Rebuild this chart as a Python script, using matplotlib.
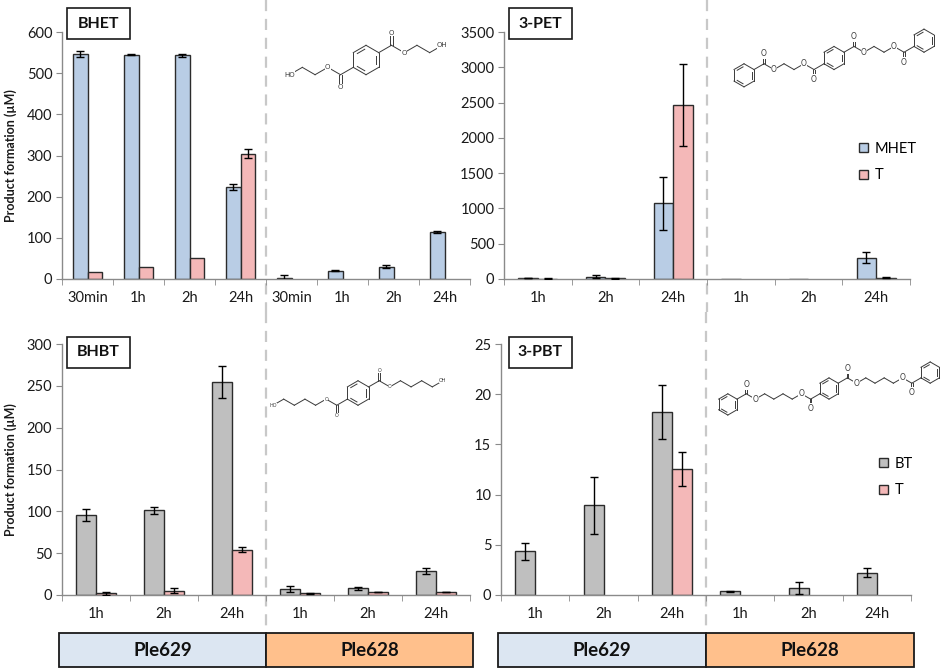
import numpy as np
import matplotlib
matplotlib.use("Agg")
import matplotlib.pyplot as plt
from matplotlib.patches import Rectangle, Patch
from matplotlib.transforms import blended_transform_factory

plt.rcParams['font.family'] = ['Lato', 'DejaVu Sans']

# ---------------- data ----------------
bhet_cats = ['30min', '1h', '2h', '24h', '30min', '1h', '2h', '24h']
bhet_mhet = [547, 545, 543, 223, 3, 20, 30, 114]
bhet_mhet_err = [8, 1.5, 4, 8, 7, 1, 4, 2]
bhet_t = [17, 28, 50, 304, 0, 0, 0, 0]
bhet_t_err = [0, 0, 0, 11, 0, 0, 0, 0]

time_cats = ['1h', '2h', '24h', '1h', '2h', '24h']
pet_mhet = [15, 35, 1070, 4, 4, 300]
pet_mhet_err = [6, 20, 375, 0, 0, 80]
pet_t = [6, 10, 2460, 0, 0, 20]
pet_t_err = [2, 3, 580, 0, 0, 5]

bhbt_bt = [96, 101, 255, 7, 8, 29]
bhbt_bt_err = [7, 4, 19, 4, 2, 3.5]
bhbt_t = [2, 5, 54, 2, 3.5, 3.5]
bhbt_t_err = [2, 3, 3, 0.5, 0.5, 0.5]

pbt_bt = [4.35, 8.95, 18.2, 0.35, 0.65, 2.2]
pbt_bt_err = [0.87, 2.83, 2.67, 0.05, 0.6, 0.45]
pbt_t = [0, 0, 12.55, 0, 0, 0]
pbt_t_err = [0, 0, 1.65, 0, 0, 0]

enzymes = ['Ple629', 'Ple628']

C_MHET = '#B9CDE5'
C_T = '#F4B8B8'
C_BT = '#BFBFBF'
EDGE = '#2b2b2b'
AXC = '#8a8a8a'

W, H = 948, 670
fig = plt.figure(figsize=(W / 100, H / 100), dpi=100)


def px_axes(l, t, r, b):
    return fig.add_axes([l / W, 1 - b / H, (r - l) / W, (b - t) / H])


def bar_panel(ax, cats, s1, e1, s2, e2, c1, ymax, ystep):
    n = len(cats)
    x = np.arange(n)
    w = 0.29
    s1 = np.array(s1, float); s2 = np.array(s2, float)
    e1 = np.array(e1, float); e2 = np.array(e2, float)
    for xs, s, e, col in ((x - w / 2, s1, e1, c1), (x + w / 2, s2, e2, C_T)):
        nz = s > 0
        ax.bar(xs[nz], s[nz], w, color=col, edgecolor=EDGE, lw=1.0, zorder=2)
        m = e > 0
        ax.errorbar(xs[m], s[m], yerr=e[m], fmt='none', ecolor='black',
                    elinewidth=1.0, capsize=3, capthick=1.0, zorder=3)
    ax.set_xlim(-0.5, n - 0.5)
    ax.set_ylim(0, ymax)
    ax.set_yticks(np.arange(0, ymax + ystep / 2, ystep))
    ax.set_xticks(x)
    ax.set_xticklabels(cats)
    ax.set_xticks(np.arange(-0.5, n, 1.0), minor=True)
    for sp in ('top', 'right'):
        ax.spines[sp].set_visible(False)
    for sp in ('left', 'bottom'):
        ax.spines[sp].set_color(AXC)
        ax.spines[sp].set_linewidth(1.0)
        ax.spines[sp].set_zorder(2.5)
    ax.tick_params(axis='y', direction='out', length=4, color=AXC, labelsize=10.5,
                   labelcolor='#1a1a1a', pad=3)
    ax.tick_params(axis='x', which='major', length=0, labelsize=10.5,
                   labelcolor='#1a1a1a', pad=9)
    ax.tick_params(axis='x', which='minor', direction='out', length=4, color=AXC)
    ax.set_facecolor('none')


# ---------------- panels ----------------
ax1 = px_axes(62, 32, 470, 279)
bar_panel(ax1, bhet_cats, bhet_mhet, bhet_mhet_err, bhet_t, bhet_t_err, C_MHET, 600, 100)
ax2 = px_axes(504, 32, 910, 279)
bar_panel(ax2, time_cats, pet_mhet, pet_mhet_err, pet_t, pet_t_err, C_MHET, 3500, 500)
ax3 = px_axes(62, 344, 470, 595)
bar_panel(ax3, time_cats, bhbt_bt, bhbt_bt_err, bhbt_t, bhbt_t_err, C_BT, 300, 50)
ax4 = px_axes(501, 344, 911, 595)
bar_panel(ax4, time_cats, pbt_bt, pbt_bt_err, pbt_t, pbt_t_err, C_BT, 25, 5)

# y labels
for yc in ((32 + 279) / 2, (344 + 595) / 2):
    fig.text(11 / W, 1 - yc / H, 'Product formation (µM)', rotation=90,
             ha='center', va='center', fontsize=9, fontweight='bold', color='#1a1a1a')

# dashed dividers
for ax, ytop, ybot in ((ax1, 0, 312), (ax2, 0, 312), (ax3, 312, 633), (ax4, 312, 633)):
    n = len(ax.get_xticks())
    tr = blended_transform_factory(ax.transData, fig.transFigure)
    ax.plot([n / 2 - 0.5] * 2, [1 - ytop / H, 1 - ybot / H], transform=tr,
            color='#c8c8c8', lw=1.6, ls=(0, (5, 3.5)), clip_on=False, zorder=1)

# title boxes
for txt, l, t in (('BHET', 67, 8), ('3-PET', 509, 8), ('BHBT', 67, 337), ('3-PBT', 509, 337)):
    fig.add_artist(Rectangle((l / W, 1 - (t + 31) / H), 63 / W, 31 / H,
                             transform=fig.transFigure, fc='white', ec='#1a1a1a', lw=1.2))
    fig.text((l + 31.5) / W, 1 - (t + 15.5) / H, txt, ha='center', va='center',
             fontsize=11.5, fontweight='bold', color='#111111')

# enzyme boxes under bottom panels
for ax in (ax3, ax4):
    tr = blended_transform_factory(ax.transAxes, fig.transFigure)
    for k, (name, col) in enumerate(zip(enzymes, ['#DCE6F2', '#FFC08C'])):
        x0 = -0.007 if k == 0 else 0.5
        x1 = 0.5 if k == 0 else 1.007
        ax.add_patch(Rectangle((x0, 1 - 667 / H), x1 - x0, 34 / H, transform=tr,
                               fc=col, ec='#1a1a1a', lw=1.3, clip_on=False, zorder=4))
        ax.text((x0 + x1) / 2, 1 - 650 / H, name, transform=tr, ha='center', va='center',
                fontsize=13.5, fontweight='bold', color='#111111', zorder=5)

# legends
ax2.legend(handles=[Patch(fc=C_MHET, ec=EDGE, lw=1.0, label='MHET'),
                    Patch(fc=C_T, ec=EDGE, lw=1.0, label='T')],
           loc='upper left', bbox_to_anchor=(0.875, 0.555), frameon=False,
           fontsize=10.5, handlelength=0.6, handleheight=0.6, handletextpad=0.45,
           labelspacing=0.85, borderpad=0, borderaxespad=0)
ax4.legend(handles=[Patch(fc=C_BT, ec=EDGE, lw=1.0, label='BT'),
                    Patch(fc=C_T, ec=EDGE, lw=1.0, label='T')],
           loc='upper left', bbox_to_anchor=(0.922, 0.55), frameon=False,
           fontsize=10.5, handlelength=0.6, handleheight=0.6, handletextpad=0.45,
           labelspacing=0.85, borderpad=0, borderaxespad=0)


# ---------------- skeletal structures ----------------
def dvec(a):
    t = np.radians(a)
    return np.array([np.cos(t), np.sin(t)])


MOLC = '#3a3a3a'
MLW = 0.7


def draw_ring(ax, c):
    V = [c + dvec(30 + 60 * k) for k in range(6)]
    for k in range(6):
        p, q = V[k], V[(k + 1) % 6]
        ax.plot([p[0], q[0]], [p[1], q[1]], color=MOLC, lw=MLW)
        if k % 2 == 1:
            p2 = c + (p - c) * 0.78
            q2 = c + (q - c) * 0.78
            m = (p2 + q2) / 2
            p3 = m + (p2 - m) * 0.75
            q3 = m + (q2 - m) * 0.75
            ax.plot([p3[0], q3[0]], [p3[1], q3[1]], color=MOLC, lw=MLW)


def half_chain(seq, ring_end):
    bonds, labels, rings = [], [], []
    p = dvec(30)
    ang = 30
    for atom in seq:
        q = p + dvec(ang)
        bonds.append((p, q, 1))
        if atom == 'C=':
            b = 90 if ang == 30 else -90
            o = q + dvec(b) * 0.85
            bonds.append((q, o, 2))
            labels.append((o, 'O'))
        elif atom != 'C':
            labels.append((q, atom))
        p = q
        ang = -ang
    if ring_end:
        v = p + dvec(ang)
        bonds.append((p, v, 1))
        rings.append(v + dvec(ang))
    return bonds, labels, rings


def draw_molecule(rect, seq, ring_end, fs):
    ax = px_axes(*rect)
    ax.axis('off')
    ax.set_aspect('equal', adjustable='datalim')
    bonds, labels, rings = half_chain(seq, ring_end)
    allb = bonds + [(-p, -q, o) for p, q, o in bonds]
    alll = labels + [(-p, 'HO' if s == 'OH' else s) for p, s in labels]
    allr = [np.zeros(2)] + rings + [-c for c in rings]
    for p, q, o in allb:
        if o == 1:
            ax.plot([p[0], q[0]], [p[1], q[1]], color=MOLC, lw=MLW)
        else:
            d = q - p
            nrm = np.array([-d[1], d[0]]) / np.hypot(*d) * 0.07
            for s in (-1, 1):
                ax.plot([p[0] + s * nrm[0], q[0] + s * nrm[0]],
                        [p[1] + s * nrm[1], q[1] + s * nrm[1]], color=MOLC, lw=MLW)
    for c in allr:
        draw_ring(ax, c)
    for p, s in alll:
        ax.text(p[0], p[1], s, ha='center', va='center', fontsize=fs, color=MOLC,
                family='DejaVu Sans',
                bbox=dict(boxstyle='square,pad=0.05', fc='white', ec='none'), zorder=5)
    ax.autoscale_view()
    ax.margins(0.03)


draw_molecule((285, 28, 447, 92), ['C=', 'O', 'C', 'C', 'OH'], False, 5)
draw_molecule((728, 26, 940, 90), ['C=', 'O', 'C', 'C', 'O', 'C='], True, 5.5)
draw_molecule((268, 362, 448, 424), ['C=', 'O', 'C', 'C', 'C', 'C', 'OH'], False, 3.5)
draw_molecule((712, 356, 946, 421), ['C=', 'O', 'C', 'C', 'C', 'C', 'O', 'C='], True, 5.5)

fig.savefig('out.png', dpi=100)
